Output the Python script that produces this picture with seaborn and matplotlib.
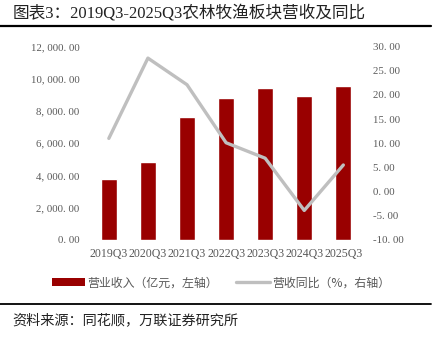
import numpy as np
import pandas as pd
import matplotlib
matplotlib.use("Agg")
import matplotlib.pyplot as plt
from matplotlib.lines import Line2D
from matplotlib.patches import Patch
from matplotlib.ticker import FuncFormatter
import seaborn as sns

# Data
quarters = ["2019Q3", "2020Q3", "2021Q3", "2022Q3", "2023Q3", "2024Q3", "2025Q3"]
revenue = [3770, 4820, 7650, 8800, 9450, 8940, 9560]          # 亿元
yoy = [11.0, 27.6, 22.1, 10.1, 6.9, -3.9, 5.5]                 # %

title = "图表3：2019Q3-2025Q3农林牧渔板块营收及同比"
legend_labels = ["营业收入（亿元，左轴）", "营收同比（%，右轴）"]
source = "资料来源：同花顺，万联证券研究所"

BAR = "#990000"
LINE = "#BFBFBF"
TICK = "#595959"

sns.set_theme(style="white")
plt.rcParams["font.family"] = ["Liberation Serif", "Noto Sans CJK SC", "DejaVu Sans"]

df = pd.DataFrame({"quarter": quarters, "revenue": revenue, "yoy": yoy})


def spaced(text):
    # wide punctuation, as in the report's number style
    return text.replace(",", ", ").replace(".", ". ")


fig = plt.figure(figsize=(4.42, 3.37), dpi=100)
ax = fig.add_axes([0.202, 0.288, 0.619, 0.574])

sns.barplot(data=df, x="quarter", y="revenue", color=BAR, saturation=1,
            width=0.41, ax=ax)
ax.set_ylim(0, 12000)
ax.set_yticks(np.arange(0, 12001, 2000))
ax.yaxis.set_major_formatter(FuncFormatter(lambda v, p: spaced(f"{v:,.2f}")))
ax.set_xlim(-0.5, len(quarters) - 0.5)
ax.set_xlabel("")
ax.set_ylabel("")

ax2 = ax.twinx()
sns.lineplot(x=np.arange(len(quarters)), y=df["yoy"], color=LINE,
             linewidth=2.4, ax=ax2)
ax2.set_ylim(-10, 30)
ax2.set_yticks(np.arange(-10, 31, 5))
ax2.yaxis.set_major_formatter(FuncFormatter(lambda v, p: spaced(f"{v:.2f}")))
ax2.set_ylabel("")
ax2.set_xlim(-0.5, len(quarters) - 0.5)

for a in (ax, ax2):
    for s in a.spines.values():
        s.set_visible(False)
    a.grid(False)
    a.tick_params(length=0, labelsize=7.8, colors=TICK)

ax.tick_params(axis="y", pad=7)
ax2.tick_params(axis="y", pad=7)
ax.tick_params(axis="x", pad=6, labelsize=8.6)

# Title and rules
fig.text(0.028, 0.962, title, fontsize=12, color="#222222",
         family=["Liberation Serif", "Noto Sans CJK SC"], va="center", ha="left")
fig.add_artist(Line2D([0.0, 0.975], [0.922, 0.922], color="black", linewidth=1.6))
fig.add_artist(Line2D([0.0, 0.975], [0.097, 0.097], color="black", linewidth=1.3))

handles = [Patch(facecolor=BAR, edgecolor="none"),
           Line2D([0], [0], color=LINE, linewidth=2.4)]
fig.legend(handles, legend_labels, loc="center", bbox_to_anchor=(0.5, 0.161),
           ncol=2, frameon=False, labelcolor=TICK,
           handlelength=2.8, handletextpad=0.2, columnspacing=1.5,
           prop={"family": ["Noto Sans CJK SC", "DejaVu Sans"], "size": 8.6})

fig.text(0.028, 0.05, source, color="#222222",
         family=["Noto Sans CJK SC", "DejaVu Sans"], fontsize=10.2, style="italic",
         va="center", ha="left")

fig.savefig("out.png", dpi=100)
